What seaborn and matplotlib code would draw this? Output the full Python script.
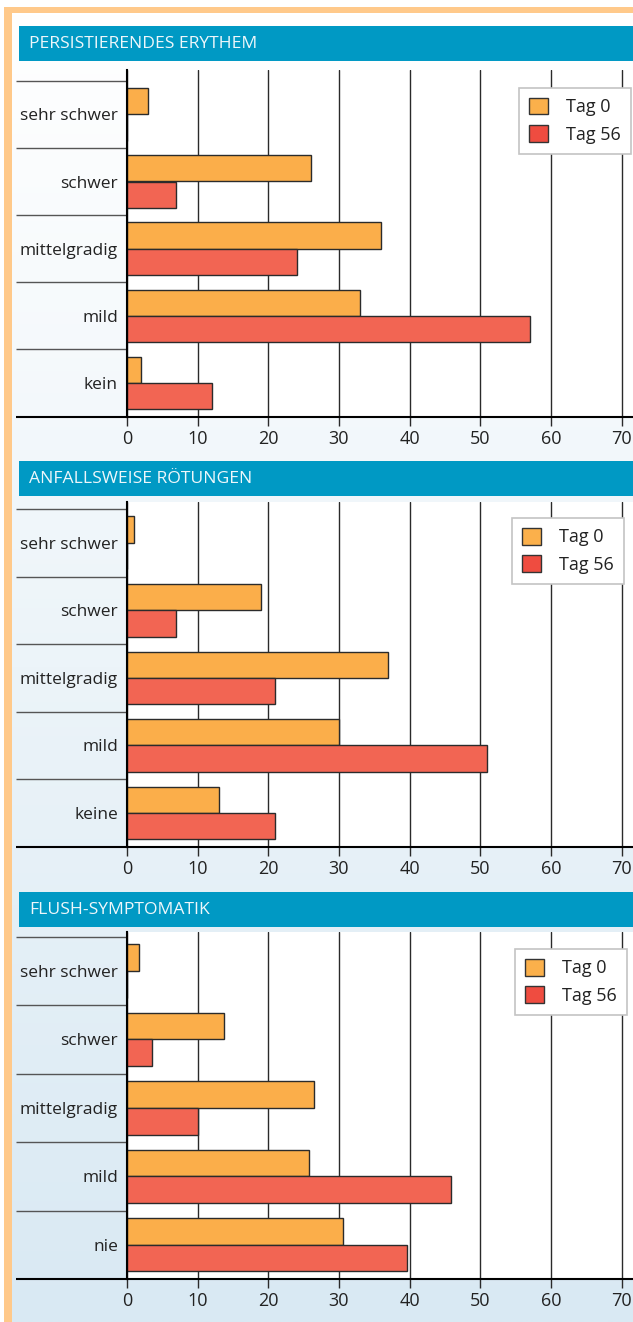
import numpy as np
import pandas as pd
import matplotlib
matplotlib.use("Agg")
import matplotlib.pyplot as plt
import seaborn as sns
from matplotlib.patches import Rectangle, Patch
from matplotlib.colors import to_rgb

# Daten: Anteil der Patienten (%) je Schweregrad, Tag 0 vs. Tag 56
titles = ["PERSISTIERENDES ERYTHEM", "ANFALLSWEISE RÖTUNGEN", "FLUSH-SYMPTOMATIK"]
cats_erythem = ["sehr schwer", "schwer", "mittelgradig", "mild", "kein"]
cats_roetung = ["sehr schwer", "schwer", "mittelgradig", "mild", "keine"]
cats_flush = ["sehr schwer", "schwer", "mittelgradig", "mild", "nie"]
erythem_tag0 = [3, 26, 36, 33, 2]
erythem_tag56 = [0, 7, 24, 57, 12]
roetung_tag0 = [1, 19, 37, 30, 13]
roetung_tag56 = [0, 7, 21, 51, 21]
flush_tag0 = [1.7, 13.7, 26.5, 25.8, 30.6]
flush_tag56 = [0, 3.6, 10, 45.8, 39.6]
series = ["Tag 0", "Tag 56"]
xticks = [0, 10, 20, 30, 40, 50, 60, 70]

panels = [
    (titles[0], cats_erythem, erythem_tag0, erythem_tag56),
    (titles[1], cats_roetung, roetung_tag0, roetung_tag56),
    (titles[2], cats_flush, flush_tag0, flush_tag56),
]

# Layout in Pixeln: Kopf oben/unten, Gitter oben, erste Zeile, x-Achse, Legende (rechts, oben)
W, H = 633, 1322
layout = [
    (26, 61, 70, 80.7, 416.7, 630.7, 87.7),
    (461, 495.7, 501.7, 509, 846.7, 624, 518),
    (892.3, 926.7, 932, 936.7, 1279, 627, 949),
]
ax_left = 127
px_per_unit = 7.065

orange = "#FBAE4A"
red = "#F26553"
blue = "#0099C4"
frame_col = "#FFC98A"

sns.set_theme(style="white")
plt.rcParams["font.family"] = ["Open Sans", "DejaVu Sans"]

fig = plt.figure(figsize=(W / 100, H / 100), dpi=100)

# Hintergrund mit Verlauf, Rahmen und Kopfleisten
bg = fig.add_axes([0, 0, 1, 1], zorder=-5)
bg.set_xlim(0, W)
bg.set_ylim(H, 0)
bg.axis("off")
top_c = np.array(to_rgb("#FFFFFF"))
bot_c = np.array(to_rgb("#D9E9F3"))
t = np.linspace(0, 1, 300)[:, None, None]
grad = top_c * (1 - t) + bot_c * t
bg.imshow(grad, extent=[12, W, H, 13], aspect="auto", interpolation="bilinear")
bg.add_patch(Rectangle((4, 7), 8, H - 7, color=frame_col, lw=0))
bg.add_patch(Rectangle((4, 7), W - 4, 6.3, color=frame_col, lw=0))

for (title, cats, tag0, tag56), (ht, hb, gt, rt, ab, lx, ly) in zip(panels, layout):
    bg.add_patch(Rectangle((19, ht), W - 19, hb - ht, color=blue, lw=0))
    bg.text(29, (ht + hb) / 2 + 0.5, title, color="#EEF7FB", fontsize=12.6,
            va="center", ha="left")

    df = pd.DataFrame({
        "Kategorie": cats * 2,
        "Zeitpunkt": [series[0]] * len(cats) + [series[1]] * len(cats),
        "Anteil": tag0 + tag56,
    })

    ax = fig.add_axes([ax_left / W, 1 - ab / H, (W - ax_left) / W, (ab - gt) / H])
    ax.set_facecolor("white")
    sns.barplot(data=df, y="Kategorie", x="Anteil", hue="Zeitpunkt",
                order=cats, hue_order=series, palette=[orange, red],
                width=0.78, saturation=1, errorbar=None, orient="h",
                edgecolor="#2b2b2b", linewidth=1, legend=False, ax=ax)

    rowh = (ab - rt) / len(cats)
    ax.set_ylim(len(cats) - 0.5, -0.5 - (rt - gt) / rowh)
    ax.set_xlim(0, (W - ax_left) / px_per_unit)
    ax.set_xticks(xticks)
    ax.set_xlabel("")
    ax.set_ylabel("")
    ax.grid(axis="x", color="#2a2a2a", linewidth=1)
    ax.set_axisbelow(True)

    for s in ["top", "right"]:
        ax.spines[s].set_visible(False)
    for s in ["left", "bottom"]:
        ax.spines[s].set_color("black")
        ax.spines[s].set_linewidth(1.5)

    ax.tick_params(axis="x", direction="out", length=6.5, width=1, color="#2a2a2a",
                   labelsize=13, labelcolor="#222222", pad=3, bottom=True)
    ax.tick_params(axis="y", length=0, pad=6.5, labelsize=12.5, labelcolor="#222222")

    # Trennlinien in der Beschriftungsspalte
    x0 = (16 - ax_left) / (W - ax_left)
    ytr = ax.get_yaxis_transform()
    for i in range(len(cats)):
        ax.plot([x0, 0], [i - 0.5, i - 0.5], transform=ytr, color="#555555",
                lw=1, clip_on=False, solid_capstyle="butt")
    ax.plot([x0, 0], [len(cats) - 0.5] * 2, transform=ytr, color="black",
            lw=1.5, clip_on=False, solid_capstyle="butt")

    handles = [Patch(facecolor="#FBB04B", edgecolor="#333333", label=series[0]),
               Patch(facecolor="#EF4C40", edgecolor="#333333", label=series[1])]
    leg = ax.legend(handles=handles, loc="upper right",
                    bbox_to_anchor=(lx / W, 1 - ly / H), bbox_transform=fig.transFigure,
                    borderaxespad=0, frameon=True, fancybox=False, edgecolor="#C4C4C4",
                    framealpha=1, fontsize=13, handlelength=1.05, handleheight=1.05,
                    handletextpad=1.0, labelspacing=0.5, borderpad=0.55)
    leg.get_frame().set_linewidth(1.2)
    for txt in leg.get_texts():
        txt.set_color("#222222")

fig.savefig("out.png", dpi=100)
